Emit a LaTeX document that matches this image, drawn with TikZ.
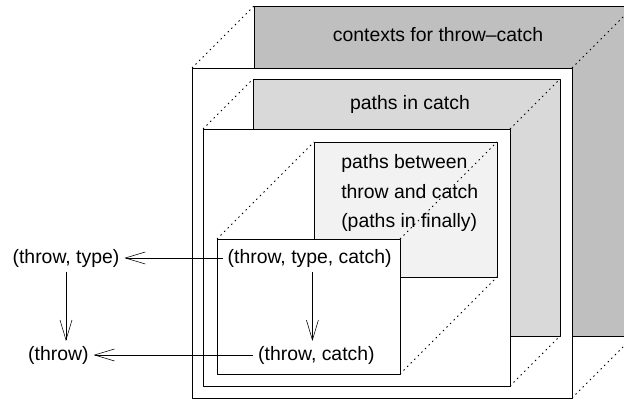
\documentclass[tikz,border=0pt]{standalone}
\usepackage{fontspec}
\setmainfont{Liberation Sans}
\usetikzlibrary{arrows.meta}
\definecolor{gDark}{gray}{0.75}
\definecolor{gMid}{gray}{0.85}
\definecolor{gLight}{gray}{0.95}
\tikzset{
	face/.style={draw, line width=0.6pt},
	edge/.style={line width=0.7pt, dash pattern=on 1pt off 2.6pt},
}
\begin{document}
\begin{tikzpicture}[font=\fontsize{13.8}{21}\selectfont, line join=round, >={Straight Barb[length=0.5cm,width=0.3cm]}]
		\clip (0,0) rectangle (15.6,10);
		% nested boxes: back face, dotted edges, front face
		\foreach \xa/\ya/\xb/\yb/\d/\col in {4.8/0.05/14.3/8.3/1.55/gDark, 5.075/0.35/12.75/6.775/1.25/gMid, 5.425/0.65/10/4.025/2.425/gLight}{
			\filldraw[face, fill=\col] (\xa+\d,\ya+\d) rectangle (\xb+\d,\yb+\d);
			\draw[edge] (\xa,\yb) -- ++(\d,\d) (\xb,\yb) -- ++(\d,\d) (\xb,\ya) -- ++(\d,\d);
			\filldraw[face, fill=white] (\xa,\ya) rectangle (\xb,\yb);
		}
		\node (ctx) at (10.95,9.125) {contexts for throw--catch};
		\node (cat) at (10.25,7.4) {paths in catch};
		\node[align=left, anchor=west, inner sep=0] (fin) at (8.525,5.175) {paths between\\throw and catch\\(paths in finally)};
		% tuples and projections
		\node (ttc) at (7.74,3.55) {(throw, type, catch)};
		\node (tc) at (7.91,1.125) {(throw, catch)};
		\node (tt) at (1.65,3.55) {(throw, type)};
		\node (t) at (1.46,1.125) {(throw)};
		\draw[->] (ttc.west) -- (tt.east);
		\draw[->] (tc.west) -- (t.east);
		\draw[->] ([xshift=2pt]ttc.south) -- ([xshift=2pt]ttc.south |- tc.north);
		\draw[->] (tt.south) -- (tt.south |- t.north);
\end{tikzpicture}
\end{document}
